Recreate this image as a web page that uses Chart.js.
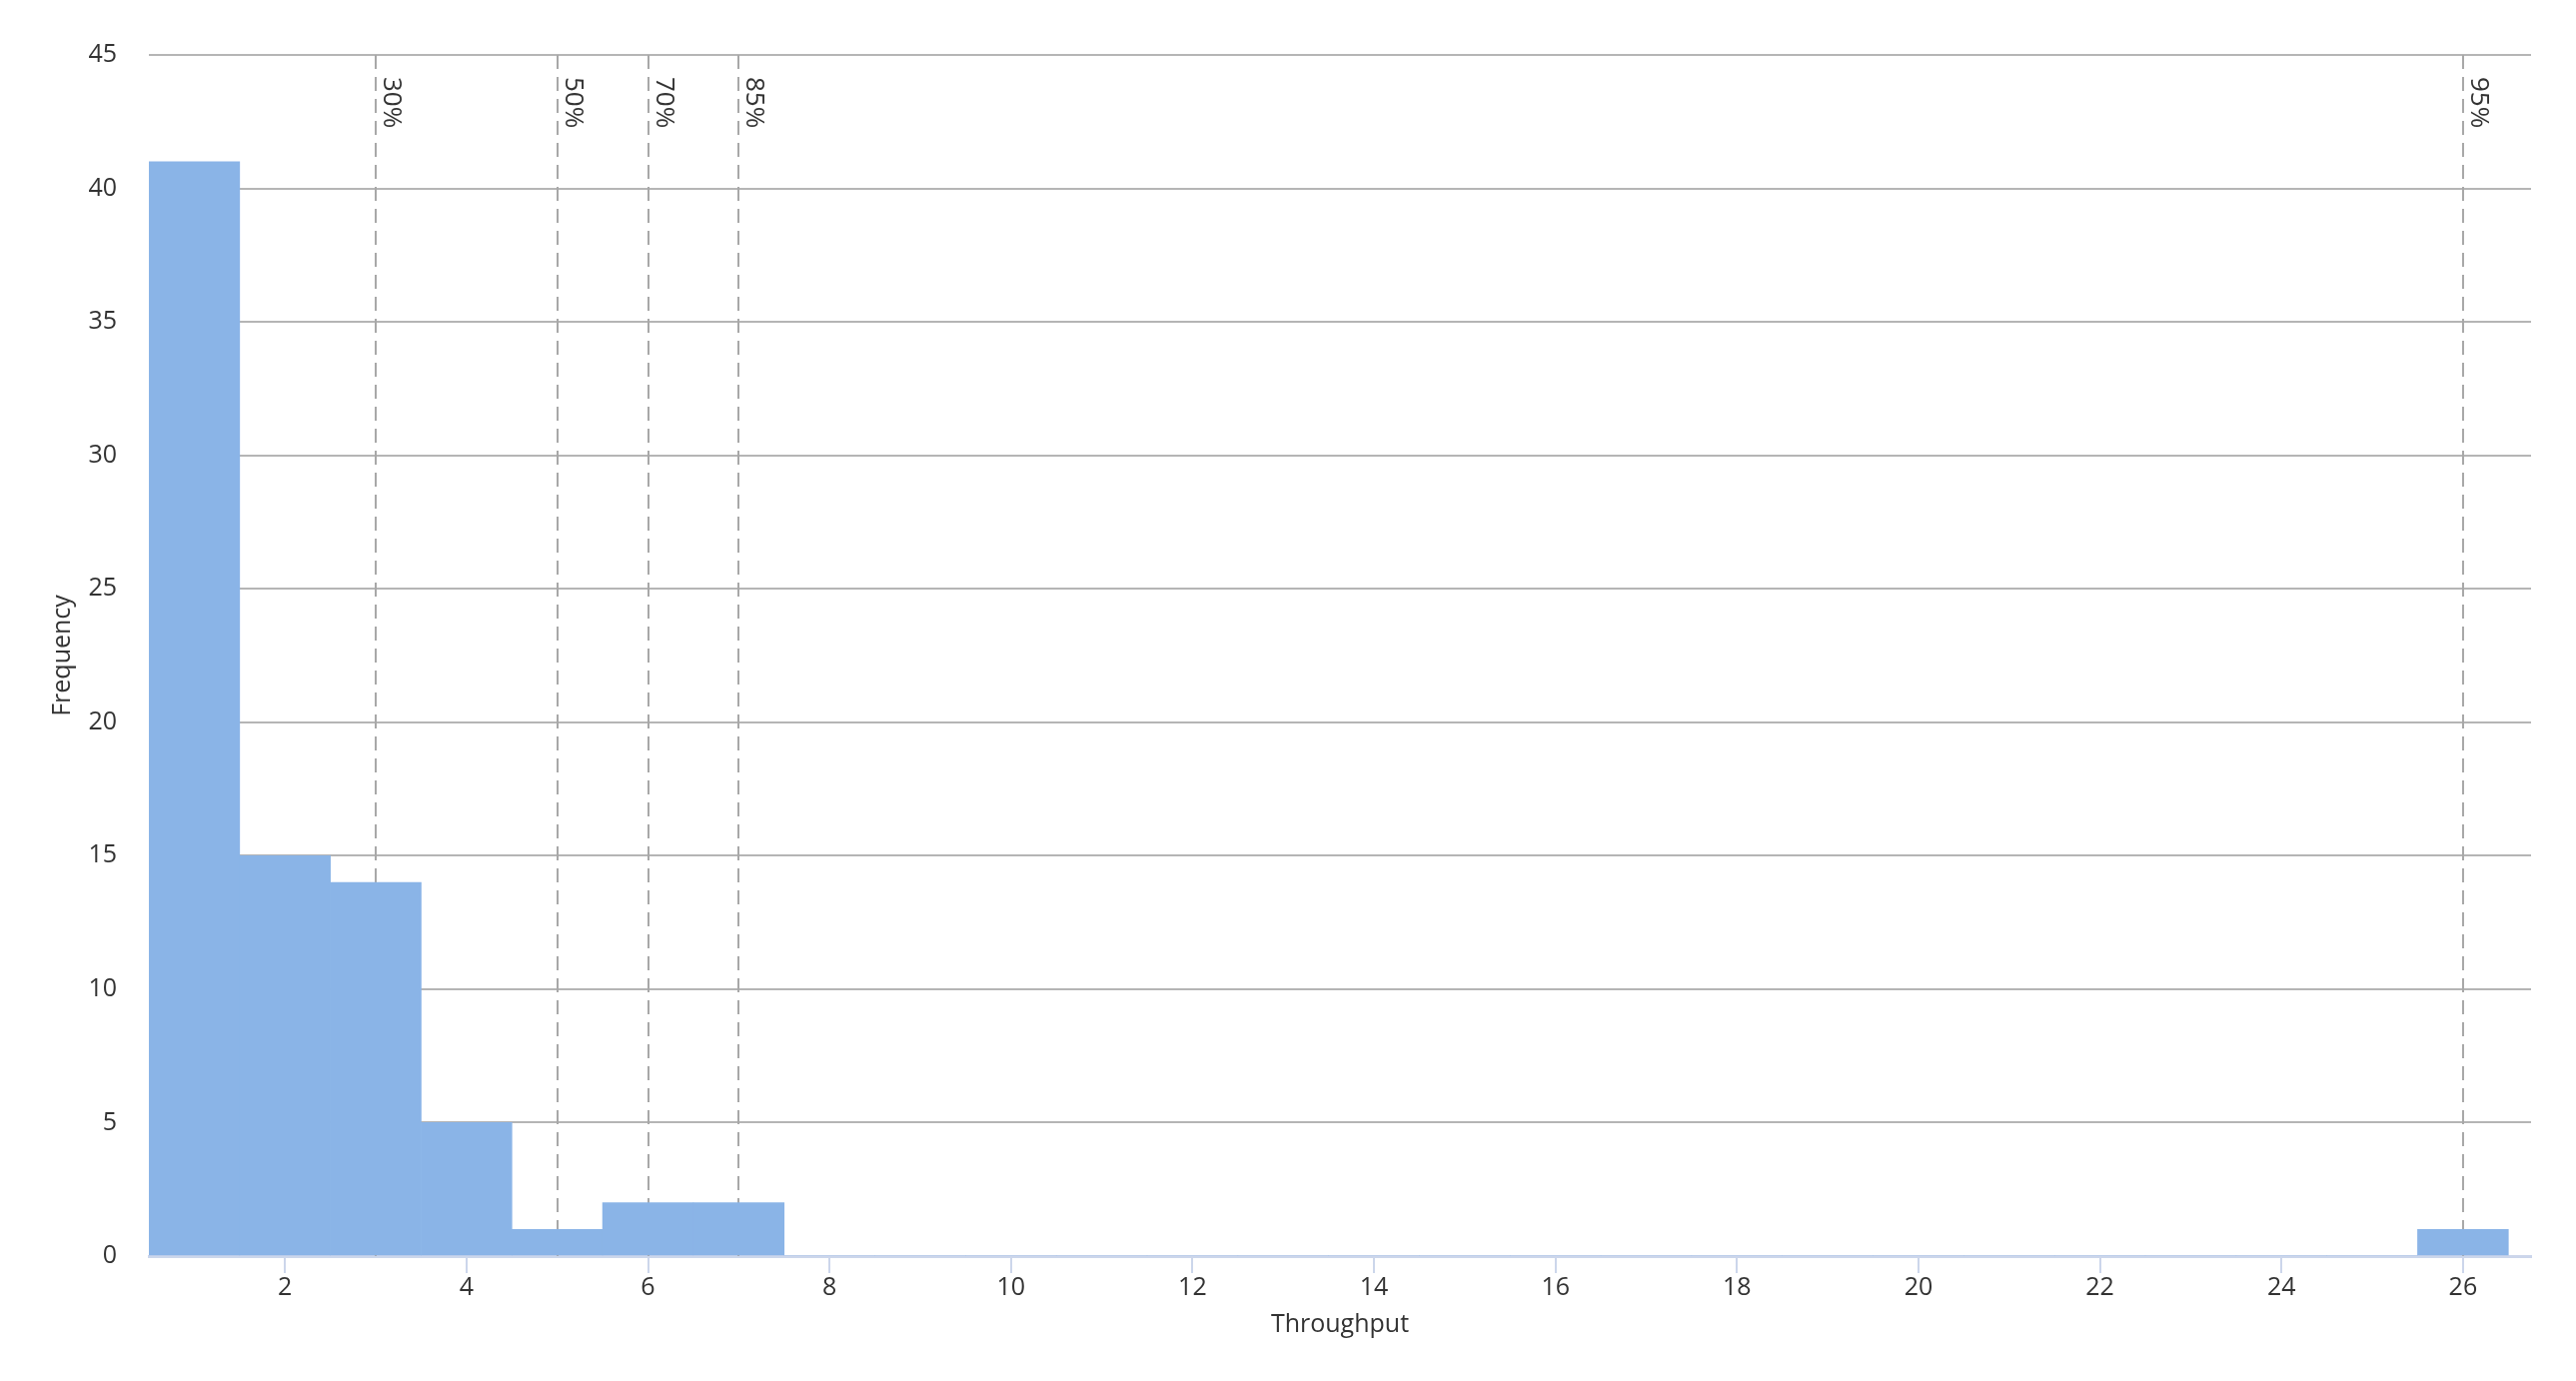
<!DOCTYPE html>
<html>
<head>
<meta charset="utf-8">
<script src="https://cdn.jsdelivr.net/npm/chart.js@4"></script>
<style>
    html, body { margin: 0; padding: 0; background: #fff; overflow: hidden; }
    #grafico { display: block; }
</style>
</head>
<body>
<canvas id="grafico" width="2578" height="1382"></canvas>
<script>
// throughput bins (centre of each 1-wide bin) and how often each occurred
const throughputBins = [1, 2, 3, 4, 5, 6, 7, 8, 9, 10, 11, 12, 13, 14, 15, 16, 17, 18, 19, 20, 21, 22, 23, 24, 25, 26];
const frequencies    = [41, 15, 14, 5, 1, 2, 2, 0, 0, 0, 0, 0, 0, 0, 0, 0, 0, 0, 0, 0, 0, 0, 0, 0, 0, 1];

const percentileValues = [3, 5, 6, 7, 26];
const percentileLabels = ['30%', '50%', '70%', '85%', '95%'];

const xTickValues = [2, 4, 6, 8, 10, 12, 14, 16, 18, 20, 22, 24, 26];
const yTickValues = [0, 5, 10, 15, 20, 25, 30, 35, 40, 45];

const fonte = '"Open Sans", Lato, sans-serif';
const corTexto = '#333333';

// dashed percentile markers, drawn behind the bars
const linhasPercentil = {
    id: 'linhasPercentil',
    beforeDatasetsDraw(chart) {
        const { ctx, chartArea, scales } = chart;
        ctx.save();
        ctx.strokeStyle = '#a8a8a8';
        ctx.lineWidth = 2;
        ctx.setLineDash([14, 8]);
        percentileValues.forEach(v => {
            const px = Math.round(scales.x.getPixelForValue(v));
            ctx.beginPath();
            ctx.moveTo(px, chartArea.top);
            ctx.lineTo(px, chartArea.bottom);
            ctx.stroke();
        });
        ctx.setLineDash([]);
        ctx.fillStyle = corTexto;
        ctx.font = '26px ' + fonte;
        ctx.textAlign = 'left';
        ctx.textBaseline = 'alphabetic';
        percentileValues.forEach((v, i) => {
            const px = Math.round(scales.x.getPixelForValue(v));
            ctx.save();
            ctx.translate(px + 8, chartArea.top + 22);
            ctx.rotate(Math.PI / 2);
            ctx.fillText(percentileLabels[i], 0, 0);
            ctx.restore();
        });
        ctx.restore();
    }
};

new Chart(document.getElementById('grafico'), {
    type: 'bar',
    data: {
        datasets: [{
            label: 'Frequency',
            data: throughputBins.map((x, i) => ({ x: x, y: frequencies[i] })),
            backgroundColor: '#8ab4e7',
            borderWidth: 0,
            barPercentage: 1,
            categoryPercentage: 1
        }]
    },
    options: {
        responsive: false,
        devicePixelRatio: 1,
        animation: false,
        layout: { padding: { top: 55, right: 45, left: 0, bottom: 0 } },
        plugins: {
            legend: { display: false },
            tooltip: { enabled: false }
        },
        scales: {
            x: {
                type: 'linear',
                min: 0.5,
                max: 26.75,
                offset: false,
                afterBuildTicks: s => { s.ticks = xTickValues.map(v => ({ value: v })); },
                afterFit: s => { s.height = 125; },
                grid: {
                    offset: false,
                    drawOnChartArea: false,
                    drawTicks: true,
                    tickLength: 17,
                    color: '#ccd6eb',
                    lineWidth: 2
                },
                border: { display: true, color: '#ccd6eb', width: 3 },
                ticks: {
                    color: corTexto,
                    font: { family: fonte, size: 25 },
                    padding: 0,
                    maxRotation: 0
                },
                title: {
                    display: true,
                    text: 'Throughput',
                    color: corTexto,
                    font: { family: fonte, size: 25 },
                    padding: { top: 0, bottom: 41 }
                }
            },
            y: {
                min: 0,
                max: 45,
                afterBuildTicks: s => { s.ticks = yTickValues.map(v => ({ value: v })); },
                afterFit: s => { s.width = 149; },
                grid: {
                    drawTicks: false,
                    color: c => (c.tick && c.tick.value === 0) ? 'rgba(0,0,0,0)' : '#b5b5b5',
                    lineWidth: 2
                },
                border: { display: false },
                ticks: {
                    color: corTexto,
                    font: { family: fonte, size: 25 },
                    padding: 32
                },
                title: {
                    display: true,
                    text: 'Frequency',
                    color: corTexto,
                    font: { family: fonte, size: 25 },
                    padding: { top: 48, bottom: 0 }
                }
            }
        }
    },
    plugins: [linhasPercentil]
});
</script>
</body>
</html>
